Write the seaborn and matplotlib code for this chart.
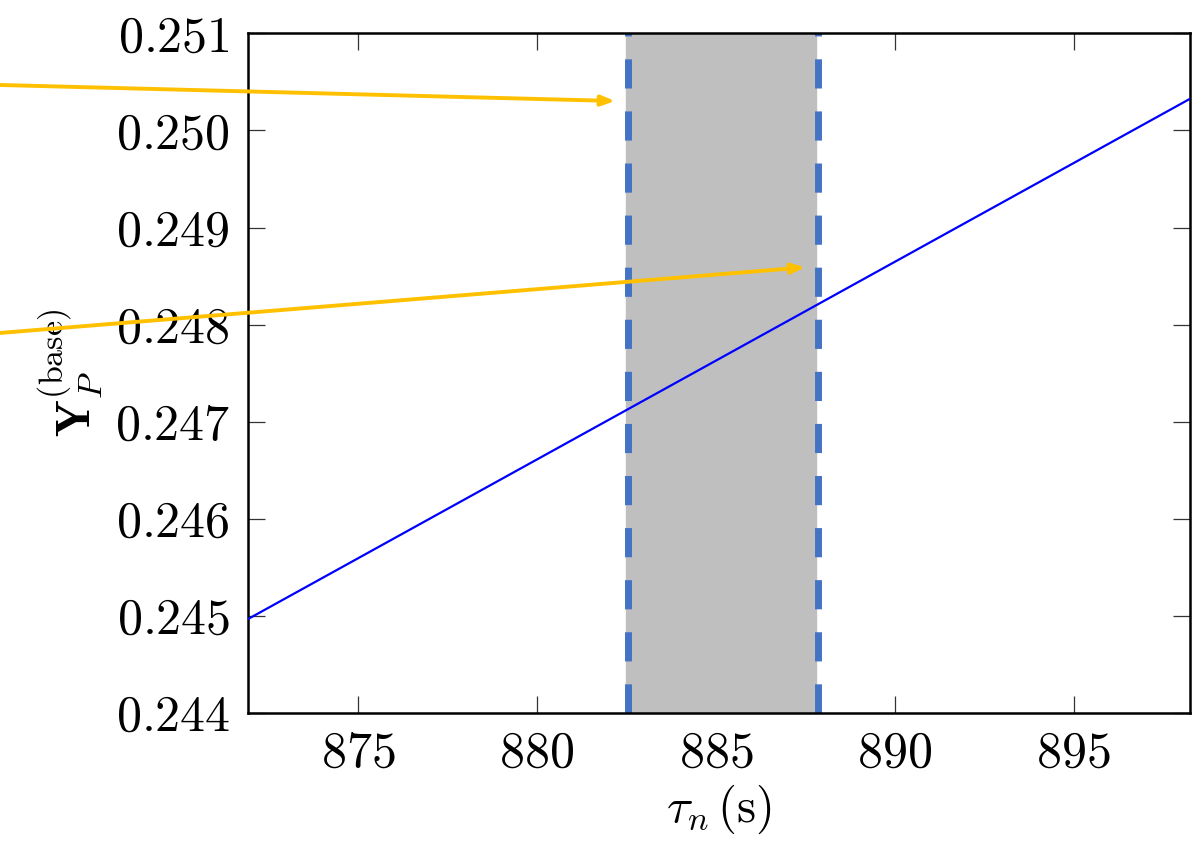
import matplotlib
matplotlib.use("Agg")
import matplotlib.pyplot as plt
from matplotlib.ticker import FixedLocator, FuncFormatter
import pandas as pd
import seaborn as sns

# Data
tau_n = [871.93, 898.25]
yp_base = [0.24497, 0.250326]
band = (882.5, 887.8)
dashed_x = [882.55, 887.85]
arrow_tails = [(865.0, 0.250468), (865.0, 0.247915)]
arrow_heads = [(882.19, 0.250303), (887.50, 0.248591)]
x_ticks = [875, 880, 885, 890, 895]
y_ticks = [0.244, 0.245, 0.246, 0.247, 0.248, 0.249, 0.250, 0.251]

sns.set_style("ticks")
plt.rcParams["font.family"] = ["serif"]
plt.rcParams["font.serif"] = ["cmr10", "DejaVu Serif"]
plt.rcParams["mathtext.fontset"] = "cm"
plt.rcParams["axes.unicode_minus"] = False
plt.rcParams["text.color"] = "black"
plt.rcParams["axes.labelcolor"] = "black"
plt.rcParams["xtick.labelcolor"] = "black"
plt.rcParams["ytick.labelcolor"] = "black"

fig = plt.figure(figsize=(11.97, 8.43), dpi=100)
ax = fig.add_axes([0.2072, 0.1539, 0.7870, 0.8066])

df = pd.DataFrame({"tau": tau_n, "yp": yp_base})

ax.axvspan(band[0], band[1], color="#bfbfbf", zorder=1)
for xv in dashed_x:
    ax.axvline(xv, color="#4472c4", lw=5, dashes=(4.2, 3.3), zorder=2)

sns.lineplot(data=df, x="tau", y="yp", color="#0000ff", lw=1.6, ax=ax, zorder=3)

for tail, head in zip(arrow_tails, arrow_heads):
    ax.annotate("", xy=head, xytext=tail, annotation_clip=False,
                arrowprops=dict(arrowstyle="-|>,head_length=0.8,head_width=0.3",
                                color="#ffc000", lw=2.8, shrinkA=0, shrinkB=0),
                zorder=4)

ax.set_xlim(tau_n[0], tau_n[1])
ax.set_ylim(y_ticks[0], y_ticks[-1])
ax.xaxis.set_major_locator(FixedLocator(x_ticks))
ax.yaxis.set_major_locator(FixedLocator(y_ticks))
ax.xaxis.set_major_formatter(FuncFormatter(lambda v, p: f"${v:.0f}$"))
ax.yaxis.set_major_formatter(FuncFormatter(lambda v, p: f"${v:.3f}$"))
ax.tick_params(direction="in", length=12, width=0.9, color="#333333",
               labelsize=36, labelcolor="black", top=True, right=True, pad=13)

for sp in ax.spines.values():
    sp.set_visible(True)
    sp.set_linewidth(1.8)
    sp.set_color("black")

ax.set_xlabel(r"$\tau_n\,(\mathrm{s})$", fontsize=35, labelpad=4)
ax.set_ylabel(r"$\mathbf{Y}_P^{(\mathrm{base})}$", fontsize=35, labelpad=8)

fig.savefig("out.png", dpi=100)
